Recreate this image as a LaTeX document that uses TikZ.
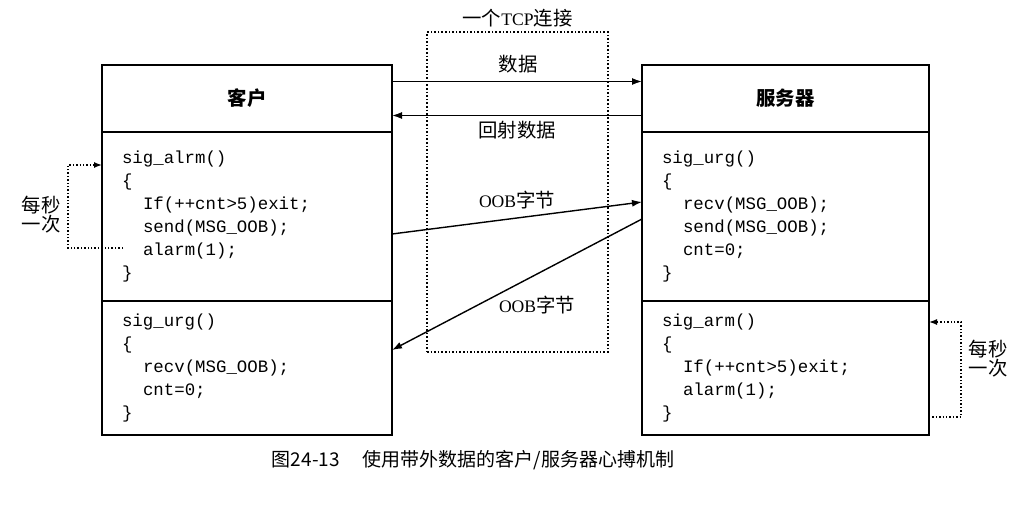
\documentclass[tikz,border=0pt]{standalone}
\usepackage{fontspec}
\setmainfont{Liberation Serif}
\newfontfamily\cjk{Noto Sans CJK SC}
\newfontfamily\codefont{Liberation Mono}
\usetikzlibrary{arrows.meta,positioning}
\newcommand\ind{\hspace*{10.5pt}}
\newcommand\lat[1]{{\rmfamily\fontsize{8.8pt}{10pt}\selectfont #1}}

\begin{document}
\begin{tikzpicture}[x=0.5pt,y=-0.5pt,
 part/.style={draw,line width=0.9pt,minimum width=145pt,inner sep=0pt,outer sep=0pt},
 head/.style={part,minimum height=33.5pt,font=\cjk\bfseries\fontsize{9.7pt}{11pt}\selectfont},
 code/.style={part,text width=125pt,inner xsep=10pt,align=left,font=\codefont\fontsize{8.7pt}{11.5pt}\selectfont},
 tag/.style={font=\cjk\fontsize{9.7pt}{9.6pt}\selectfont,inner sep=1pt,align=center},
 arrow/.style={-{Latex[length=5pt,width=3.5pt]},line width=0.7pt},
 loopline/.style={-{Latex[length=4pt,width=3pt]},densely dotted,line width=0.7pt}]
\useasboundingbox (0,0) rectangle (1029,508);
% client
\node[head,anchor=north west] (cliH) at (102,65) {客户};
\node[code,minimum height=84.5pt,below=0pt of cliH] (cliA) {sig\_alrm()\\ \{\\ \ind If(++cnt>5)exit;\\ \ind send(MSG\_OOB);\\ \ind alarm(1);\\ \}};
\node[code,minimum height=67pt,below=0pt of cliA] (cliB) {sig\_urg()\\ \{\\ \ind recv(MSG\_OOB);\\ \ind cnt=0;\\ \}};
% server
\node[head,minimum width=143.5pt,anchor=north west] (srvH) at (642,65) {服务器};
\node[code,minimum width=143.5pt,text width=123.5pt,minimum height=84.5pt,below=0pt of srvH] (srvA) {sig\_urg()\\ \{\\ \ind recv(MSG\_OOB);\\ \ind send(MSG\_OOB);\\ \ind cnt=0;\\ \}};
\node[code,minimum width=143.5pt,text width=123.5pt,minimum height=67pt,below=0pt of srvA] (srvB) {sig\_arm()\\ \{\\ \ind If(++cnt>5)exit;\\ \ind alarm(1);\\ \}};
% connection
\node[draw,densely dotted,line width=0.8pt,minimum width=90.5pt,minimum height=160pt,inner sep=0pt] (tcp) at (517.5,192) {};
\node[tag,above=1pt of tcp] (tcpT) {一个\lat{TCP}连接};
\draw[arrow] ([yshift=8.5pt]cliH.east) -- ([yshift=8.5pt]srvH.west);
\draw[arrow] ([yshift=-8.5pt]srvH.west) -- ([yshift=-8.5pt]cliH.east);
\draw[arrow] ([yshift=-8.75pt]cliA.east) -- ([yshift=7.25pt]srvA.west);
\draw[arrow] ([yshift=-1.25pt]srvA.west) -- ([yshift=9pt]cliB.east);
\node[tag] (dat) at (518,64) {数据};
\node[tag] (echo) at (517,130) {回射数据};
\node[tag] (oob1) at (517,200) {\lat{OOB}字节};
\node[tag] (oob2) at (537,305) {\lat{OOB}字节};
% timers
\coordinate (cliT) at ([xshift=10.5pt,yshift=-15.75pt]cliA.west);
\draw[loopline] (cliT) -- ++(-55,0) |- ([yshift=25.75pt]cliA.west);
\draw[loopline] ([yshift=-24.5pt]srvB.east) -- ++(32,0) |- ([yshift=23pt]srvB.east);
\node[tag] (cliL) at (41,215) {每秒\\一次};
\node[tag] (srvL) at (988,359) {每秒\\一次};
\node[font=\cjk\fontsize{9.5pt}{11pt}\selectfont] (cap) at (473,460) {图24-13\hspace{1.2em}使用带外数据的客户/服务器心搏机制};
\end{tikzpicture}
\end{document}
